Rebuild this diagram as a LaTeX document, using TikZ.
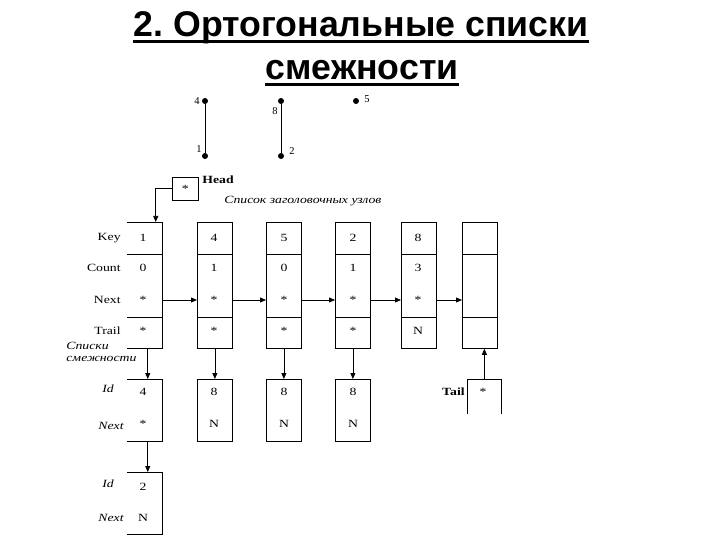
\documentclass[tikz,border=0pt]{standalone}
\usepackage{fontspec}
\setmainfont{Liberation Serif}
\newfontfamily\arialfont{Liberation Sans}
\newfontfamily\wideserif[FakeStretch=1.25]{Liberation Serif}
\usetikzlibrary{arrows.meta}
\begin{document}
\frenchspacing
\begin{tikzpicture}[x=1pt,y=-1pt,
  line width=0.75pt,
  arr/.style={-{Triangle[length=6pt,width=5pt]}},
  lbl/.style={font=\wideserif\fontsize{11}{12}\selectfont, inner sep=0pt},
  blbl/.style={font=\wideserif\bfseries\fontsize{11}{12}\selectfont, inner sep=0pt},
  ilbl/.style={font=\wideserif\itshape\fontsize{11}{12}\selectfont, inner sep=0pt},
  val/.style={font=\wideserif\fontsize{11}{12}\selectfont, inner sep=0pt},
  glbl/.style={font=\fontsize{10.5}{12}\selectfont, inner sep=0pt},
  hbox/.style={minimum width=35pt, minimum height=126pt, inner sep=0pt, anchor=north west},
  abox/.style={minimum width=35pt, minimum height=62pt, inner sep=0pt, anchor=north west},
  gdot/.style={circle, fill=black, inner sep=0pt, minimum size=6pt},
  ttl/.style={font=\arialfont\bfseries\fontsize{35.7}{40}\selectfont, inner sep=0pt}
]
\useasboundingbox (0,0) rectangle (720,540);

% title
\node[ttl, anchor=base] (t1) at (361,37) {2.\ Ортогональные списки};
\node[ttl, anchor=base] (t2) at (362,80) {смежности};
\draw[line width=3pt] (t1.base west) ++(0,4.5) -- ([yshift=-4.5pt]t1.base east);
\draw[line width=3pt] (t2.base west) ++(0,4.5) -- ([yshift=-4.5pt]t2.base east);

% small graph
\node[gdot] (g4) at (205,101) {};
\node[gdot] (g1) at (205,156) {};
\node[gdot] (g8) at (281,101) {};
\node[gdot] (g2) at (281,156) {};
\node[gdot] (g5) at (356,101) {};
\draw (g4) -- (g1);
\draw (g8) -- (g2);
\node[glbl] (l4) at (197,101) {4};
\node[glbl] (l1) at (199,149) {1};
\node[glbl] (l8) at (275,111) {8};
\node[glbl] (l2) at (292,151) {2};
\node[glbl] (l5) at (367,99) {5};

% head pointer
\node[draw, minimum width=26pt, minimum height=23pt, inner sep=0pt, anchor=north west] (head) at (172,177) {};
\node[val] at (head.center) {*};
\node[blbl, anchor=west] (headlbl) at (202,180) {Head};
\node[ilbl, anchor=west] (caption) at (224,201) {Список заголовочных узлов};

% header boxes
\node[hbox] (h1) at (127,222) {};
\node[hbox, draw] (h2) at (197,222) {};
\node[hbox, draw] (h3) at (266,222) {};
\node[hbox, draw] (h4) at (335,222) {};
\node[hbox, draw] (h5) at (401,222) {};
\node[hbox, draw] (h6) at (462,222) {};
\draw (h1.north west) -- (h1.north east) -- (h1.south east) -- (h1.south west);
\foreach \b in {h1,h2,h3,h4,h5,h6}{
  \draw ([yshift=-32pt]\b.north west) -- ([yshift=-32pt]\b.north east);
  \draw ([yshift=31pt]\b.south west) -- ([yshift=31pt]\b.south east);
}
% row labels
\node[lbl, anchor=east] (kKey) at (121,238) {Key};
\node[lbl, anchor=east] (kCount) at (121,268) {Count};
\node[lbl, anchor=east] (kNext) at (121,300) {Next};
\node[lbl, anchor=east] (kTrail) at (121,331) {Trail};
\node[ilbl, align=left, anchor=north west] (adjcap) at (66,342) {Списки\\смежности};

% values
\foreach \b/\x/\k/\c/\n/\t in {1/143/1/0/*/*, 2/214/4/1/*/*, 3/284/5/0/*/*, 4/353/2/1/*/*, 5/418/8/3/*/N}{
  \node[val] (k\b) at (\x,238) {\k};
  \node[val] (c\b) at (\x,268) {\c};
  \node[val] (n\b) at (\x,300) {\n};
  \node[val] (t\b) at (\x,331) {\t};
}

% head arrow
\coordinate (hc) at (155,188);
\draw[arr] (head.west |- hc) -| ([xshift=-7pt]h1.north east);

% next arrows
\draw[arr] (h1.east |- n1) -- (h2.west |- n1);
\draw[arr] (h2.east |- n2) -- (h3.west |- n2);
\draw[arr] (h3.east |- n3) -- (h4.west |- n3);
\draw[arr] (h4.east |- n4) -- (h5.west |- n4);
\draw[arr] (h5.east |- n5) -- (h6.west |- n5);

% adjacency boxes
\node[abox] (a1) at (127,379) {};
\node[abox, draw] (a2) at (197,379) {};
\node[abox, draw] (a3) at (266,379) {};
\node[abox, draw] (a4) at (335,379) {};
\node[abox] (a5) at (127,472) {};
\draw (a1.north west) -- (a1.north east) -- (a1.south east) -- (a1.south west);
\draw (a5.north west) -- (a5.north east) -- (a5.south east) -- (a5.south west);

\node[val] (ai1) at (143,392) {4};
\node[val] (an1) at (143,424) {*};
\node[val] (ai2) at (214,392) {8};
\node[val] (an2) at (214,424) {N};
\node[val] (ai3) at (284,392) {8};
\node[val] (an3) at (284,424) {N};
\node[val] (ai4) at (353,392) {8};
\node[val] (an4) at (353,424) {N};
\node[val] (ai5) at (143,487) {2};
\node[val] (an5) at (143,518) {N};

\node[ilbl] (id1) at (108,389) {Id};
\node[ilbl] (nx1) at (111,426) {Next};
\node[ilbl] (id2) at (108,484) {Id};
\node[ilbl] (nx2) at (111,518) {Next};

% trail arrows
\draw[arr] ([xshift=-15pt]h1.south east) -- ([xshift=-15pt]a1.north east);
\draw[arr] (h2.south) -- (a2.north);
\draw[arr] (h3.south) -- (a3.north);
\draw[arr] (h4.south) -- (a4.north);
\draw[arr] ([xshift=-15pt]a1.south east) -- ([xshift=-15pt]a5.north east);

% tail pointer
\node[minimum width=34pt, minimum height=34pt, inner sep=0pt, anchor=north west] (tail) at (467,379) {};
\draw (tail.south west) -- (tail.north west) -- (tail.north east) -- (tail.south east);
\node[val] (tv) at (483,392) {*};
\node[blbl, anchor=east] (taillbl) at (465,392) {Tail};
\draw[arr] (tail.north) -- (tail.north |- h6.south);
\end{tikzpicture}
\end{document}
